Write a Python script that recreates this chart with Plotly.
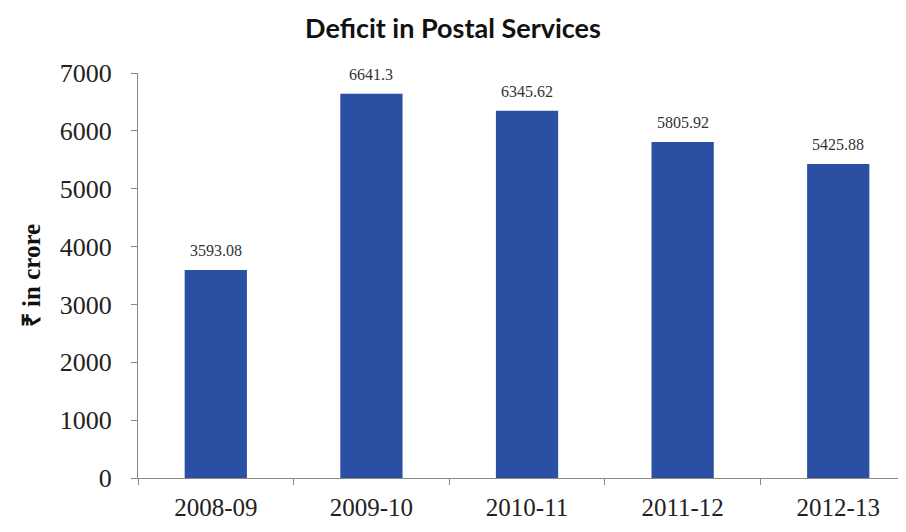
import plotly.graph_objects as go

years = ["2008-09", "2009-10", "2010-11", "2011-12", "2012-13"]
deficit = [3593.08, 6641.3, 6345.62, 5805.92, 5425.88]
labels = ["3593.08", "6641.3", "6345.62", "5805.92", "5425.88"]
y_ticks = [0, 1000, 2000, 3000, 4000, 5000, 6000, 7000]

bar_color = "#2B4FA2"
serif = "Liberation Serif, Times New Roman, serif"

fig = go.Figure()
fig.add_trace(go.Bar(x=years, y=deficit, width=0.4, marker=dict(color=bar_color, line=dict(width=0)),
                     hoverinfo="x+y"))

for x, y, t in zip(years, deficit, labels):
    fig.add_annotation(x=x, y=y, text=t, showarrow=False, yanchor="bottom", yshift=9,
                       font=dict(family=serif, size=16, color="#333333"))

fig.update_layout(
    width=890, height=516,
    paper_bgcolor="white", plot_bgcolor="white",
    margin=dict(l=130, r=0, t=65, b=46, autoexpand=False),
    showlegend=False,
    title=dict(text="<b>Deficit in Postal Services</b>", x=0.5, xanchor="center", y=0.961, yanchor="middle",
               font=dict(family="Lato, Open Sans, sans-serif", size=27, color="#111111")),
    xaxis=dict(type="category", range=[-0.5, 4.384], showline=True, linecolor="#888888", linewidth=1.3,
               ticks="outside", tickson="boundaries", ticklen=6, tickcolor="#888888", tickwidth=1.3,
               tickfont=dict(family=serif, size=25, color="#222222"), ticklabelstandoff=7,
               showgrid=False, zeroline=False, automargin=False),
    yaxis=dict(range=[0, 7000], tickvals=y_ticks, showline=True, linecolor="#888888", linewidth=1.3,
               ticks="outside", ticklen=6, tickcolor="#888888", tickwidth=1.3,
               tickfont=dict(family=serif, size=26, color="#222222"), ticklabelstandoff=14,
               showgrid=False, zeroline=False, automargin=False,
               title=dict(text="<b>₹ in crore</b>", standoff=11,
                          font=dict(family=serif, size=25, color="#111111"))),
)

fig.write_html("out.html")
